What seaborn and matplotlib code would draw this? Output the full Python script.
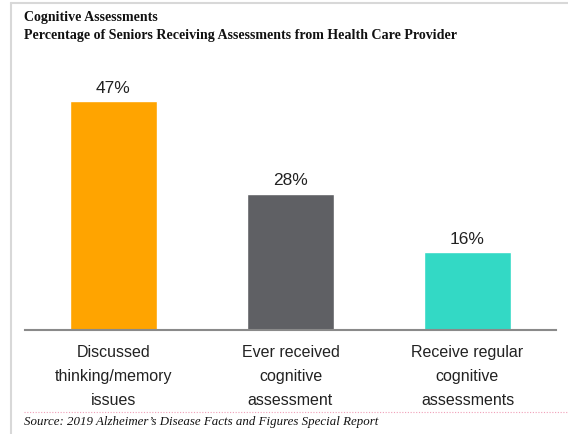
import matplotlib
matplotlib.use("Agg")
import matplotlib.pyplot as plt
import seaborn as sns
import pandas as pd
from matplotlib.lines import Line2D

sns.set_theme(style="white")

categories = ["Discussed\nthinking/memory\nissues",
              "Ever received\ncognitive\nassessment",
              "Receive regular\ncognitive\nassessments"]
values = [47, 28, 16]
labels = ["47%", "28%", "16%"]
colors = ["#FFA400", "#5F6064", "#33D9C5"]

df = pd.DataFrame({"category": categories, "pct": values})

fig = plt.figure(figsize=(5.68, 4.34), dpi=100)
ax = fig.add_axes([25 / 568, 104 / 434, 531 / 568, 268 / 434])

sns.barplot(data=df, x="category", y="pct", hue="category",
            palette=colors, width=0.49, legend=False, ax=ax, saturation=1)

for i, (v, lab) in enumerate(zip(values, labels)):
    ax.text(i, v + 1.1, lab, ha="center", va="bottom", fontsize=12.5,
            family="Liberation Sans", color="#222222")

ax.set_xlim(-0.5, 2.5)
ax.set_ylim(0, 55)
ax.set_xlabel("")
ax.set_ylabel("")
ax.set_yticks([])
for s in ["top", "left", "right"]:
    ax.spines[s].set_visible(False)
ax.spines["bottom"].set_color("#8a8a8a")
ax.spines["bottom"].set_linewidth(1.5)
ax.tick_params(axis="x", length=0, pad=11)
ax.set_xticks(range(len(categories)))
ax.set_xticklabels(categories, fontsize=11.5, family="Liberation Sans",
                   color="#222222", linespacing=1.75)

# titles
fig.text(24 / 568, 1 - 17 / 434, "Cognitive Assessments", ha="left", va="center",
         fontsize=10.1, fontweight="bold", family="Liberation Serif", color="#111111")
fig.text(24 / 568, 1 - 35 / 434,
         "Percentage of Seniors Receiving Assessments from Health Care Provider",
         ha="left", va="center", fontsize=10.1, fontweight="bold",
         family="Liberation Serif", color="#111111")

# source
fig.text(24 / 568, 1 - 422 / 434,
         "Source: 2019 Alzheimer\u2019s Disease Facts and Figures Special Report",
         ha="left", va="center", fontsize=9.3, style="italic",
         family="Liberation Serif", color="#111111")

# page borders and dotted separator
fig.add_artist(Line2D([11 / 568, 11 / 568], [0, 1 - 3 / 434],
                      color="#d8d8d8", lw=1.5, transform=fig.transFigure))
fig.add_artist(Line2D([11 / 568, 1], [1 - 3 / 434, 1 - 3 / 434],
                      color="#d8d8d8", lw=1.5, transform=fig.transFigure))
fig.add_artist(Line2D([24 / 568, 1], [1 - 412 / 434, 1 - 412 / 434],
                      color="#f0a0b8", lw=0.8, ls=(0, (1, 1.5)),
                      transform=fig.transFigure))

fig.savefig("out.png", dpi=100)
